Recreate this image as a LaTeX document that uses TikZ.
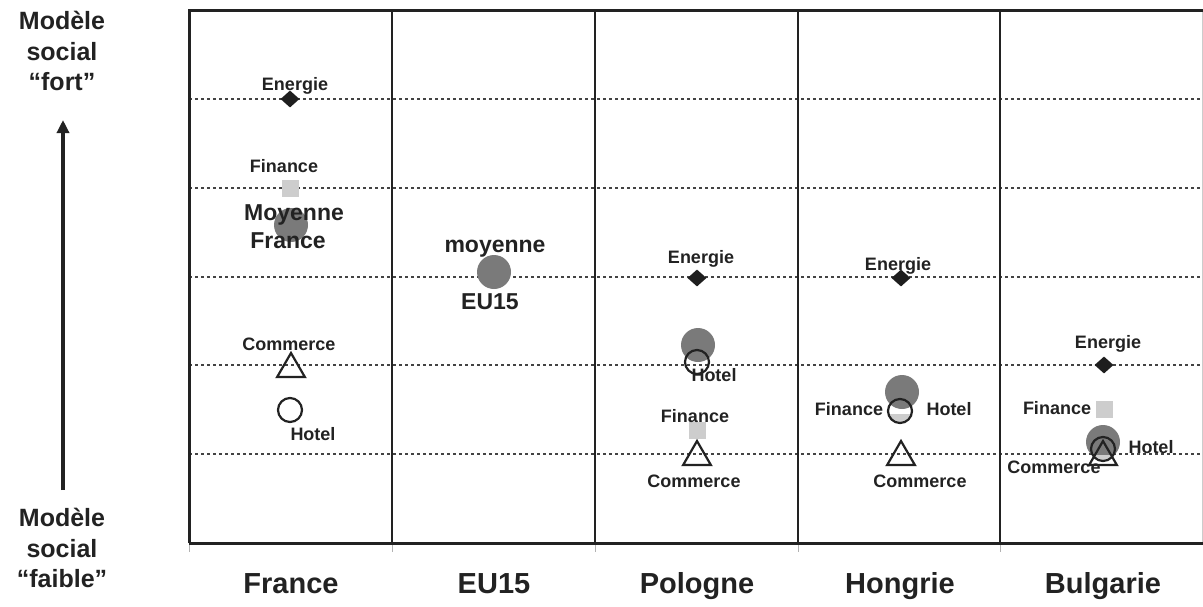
\documentclass[tikz,border=0pt]{standalone}
\usepackage{fontspec}
\setmainfont{Liberation Sans}
\usetikzlibrary{shapes.geometric,arrows.meta}
\definecolor{biggray}{HTML}{7A7A7A}
\definecolor{fingray}{HTML}{CDCDCD}
\definecolor{diamc}{HTML}{1E1E1E}
\definecolor{framec}{HTML}{222222}
\tikzset{
  lbl/.style={font=\fontsize{18}{21}\selectfont\bfseries, anchor=base, inner sep=0, text=framec},
  midlbl/.style={font=\fontsize{23}{27}\selectfont\bfseries, anchor=base, inner sep=0, text=framec},
  collbl/.style={font=\fontsize{29}{34}\selectfont\bfseries, anchor=base, inner sep=0, text=framec},
  sidelbl/.style={font=\fontsize{25}{30.5}\selectfont\bfseries, align=center, inner sep=0, text=framec},
  bigdot/.style={circle, fill=biggray, minimum size=34pt, inner sep=0},
  htl/.style={circle, draw=framec, line width=2.2pt, minimum size=24pt, inner sep=0},
  fin/.style={rectangle, fill=fingray, minimum size=17pt, inner sep=0},
  ene/.style={diamond, fill=diamc, minimum width=19pt, minimum height=17pt, inner sep=0},
  com/.style={regular polygon, regular polygon sides=3, draw=framec, line width=2.2pt, minimum size=32pt, inner sep=0},
  dotline/.style={line width=2pt, framec!85, dash pattern=on 2.5pt off 3.5pt},
  frameline/.style={line width=3pt, framec},
  sepline/.style={line width=2.5pt, framec},
  tickline/.style={line width=1pt, black!30},
}
\begin{document}
\begin{tikzpicture}[x=1pt,y=-1pt]
\useasboundingbox (0,0) rectangle (1203,606);
% grid
\draw[line width=1pt, black!20] (1202,10) -- (1202,543);
\foreach \y in {99,188,277,365,454} \draw[dotline] (189,\y) -- (1203,\y);
\foreach \x in {189,392,595,798,1000} \draw[tickline] (\x,543) -- (\x,552);
\draw[frameline] (189,543) -- (189,10) -- (1203,10);
\draw[frameline] (189,543) -- (1203,543);
\foreach \x in {392,595,798,1000} \draw[sepline] (\x,10) -- (\x,543);

% side axis
\node[sidelbl] (fort) at (62,51) {Modèle\\social\\“fort”};
\node[sidelbl] (faible) at (62,548) {Modèle\\social\\“faible”};
\coordinate (atop) at (63,120);
\coordinate (abot) at (63,490);
\draw[line width=4pt, framec, -{Triangle[length=13pt,width=12pt]}] (abot) -- (atop);

% France
\node[ene] (frE) at (290,99) {};
\node[lbl] (frEl) at (295,90) {Energie};
\node[fin] (frF) at (290,188) {};
\node[lbl] (frFl) at (284,172) {Finance};
\node[bigdot] (frM) at (291,225) {};
\node[midlbl] (frMl1) at (294,220) {Moyenne};
\node[midlbl] (frMl2) at (288,248) {France};
\node[com] (frC) at (291,369) {};
\node[lbl] (frCl) at (289,350) {Commerce};
\node[htl] (frH) at (290,410) {};
\node[lbl] (frHl) at (313,440) {Hotel};

% EU15
\node[bigdot] (euM) at (494,272) {};
\node[midlbl] (euMl1) at (495,252) {moyenne};
\node[midlbl] (euMl2) at (490,309) {EU15};

% Pologne
\node[ene] (plE) at (697,278) {};
\node[lbl] (plEl) at (701,263) {Energie};
\node[bigdot] (plM) at (698,345) {};
\node[htl] (plH) at (697,362) {};
\node[lbl] (plHl) at (714,381) {Hotel};
\node[fin] (plF) at (697,430) {};
\node[lbl] (plFl) at (695,422) {Finance};
\node[com] (plC) at (697,457) {};
\node[lbl] (plCl) at (694,487) {Commerce};

% Hongrie
\node[ene] (huE) at (901,278) {};
\node[lbl] (huEl) at (898,270) {Energie};
\node[bigdot] (huM) at (902,392) {};
\begin{scope}
  \clip (900,411) circle (11pt);
  \fill[fingray] (880,414) rectangle (920,425);
\end{scope}
\node[htl] (huH) at (900,411) {};
\node[lbl] (huFl) at (849,415) {Finance};
\node[lbl] (huHl) at (949,415) {Hotel};
\node[com] (huC) at (901,457) {};
\node[lbl] (huCl) at (920,487) {Commerce};

% Bulgarie
\node[ene] (bgE) at (1104,365) {};
\node[lbl] (bgEl) at (1108,348) {Energie};
\node[fin] (bgF) at (1104,409) {};
\node[lbl] (bgFl) at (1057,414) {Finance};
\node[lbl] (bgCl) at (1054,473) {Commerce};
\node[bigdot] (bgM) at (1103,442) {};
\begin{scope}
  \clip (1103,449) circle (11pt);
  \fill[fingray] (1090,455) rectangle (1116,462);
\end{scope}
\node[htl] (bgH) at (1103,449) {};
\node[com] (bgC) at (1103,457) {};
\node[lbl] (bgHl) at (1151,453) {Hotel};

% column labels
\node[collbl] (cFR) at (291,593) {France};
\node[collbl] (cEU) at (494,593) {EU15};
\node[collbl] (cPL) at (697,593) {Pologne};
\node[collbl] (cHU) at (900,593) {Hongrie};
\node[collbl] (cBG) at (1103,593) {Bulgarie};
\end{tikzpicture}
\end{document}
